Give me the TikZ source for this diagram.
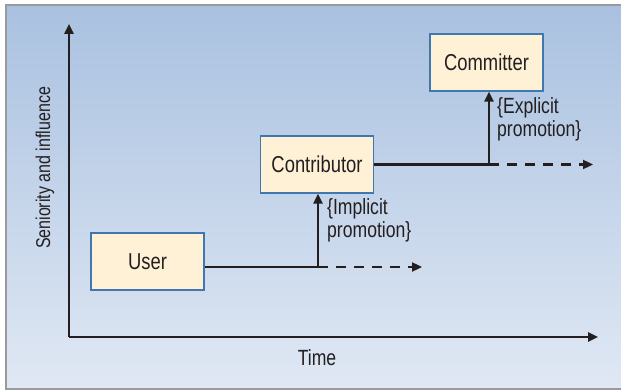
\documentclass[tikz,border=0pt]{standalone}
\usepackage{fontspec}
\setmainfont{Liberation Sans}[FakeStretch=0.8]
\usetikzlibrary{arrows.meta}
\definecolor{bgtop}{HTML}{A9C1E0}
\definecolor{bgbot}{HTML}{E0E8F4}
\definecolor{boxfill}{HTML}{FFF1D6}
\definecolor{boxline}{HTML}{3F78AE}
\definecolor{ink}{HTML}{231F20}
\definecolor{frame}{HTML}{9A9A9A}
\tikzset{
  role/.style={draw=boxline, line width=1.4pt, fill=boxfill, minimum width=113pt, minimum height=57pt, inner sep=0pt, font=\fontsize{23}{26}\selectfont, text=ink},
  axis/.style={draw=ink, line width=2.4pt, -{Triangle[length=10pt,width=9pt]}},
  link/.style={draw=ink, line width=2.3pt},
  promo/.style={draw=ink, line width=2.3pt, -{Triangle[length=10pt,width=9pt]}},
  future/.style={draw=ink, line width=2.3pt, dash pattern=on 10pt off 8pt, -{Triangle[length=10pt,width=9pt]}},
  lbl/.style={font=\fontsize{22}{23}\selectfont, text=ink, align=left, inner sep=0pt},
  axlbl/.style={font=\fontsize{20}{22}\selectfont, text=ink, inner sep=0pt},
}
\begin{document}
\begin{tikzpicture}[x=1pt,y=-1pt]
\useasboundingbox (0,0) rectangle (621,390);
\shade[top color=bgtop, bottom color=bgbot] (6,5) rectangle (621,389);
\draw[frame, line width=1.5pt] (621,5) -- (6,5) -- (6,389) -- (621,389);
% axes
\coordinate (origin) at (69,337);
\coordinate (ytip) at (69,24);
\coordinate (xtip) at (598,337);
\draw[axis] (origin) -- (ytip);
\draw[axis] (origin) -- (xtip);
\node[axlbl, rotate=90, anchor=center] (ylab) at (45,168) {Seniority and influence};
\node[axlbl, font=\fontsize{22}{24}\selectfont, anchor=center] (xlab) at (317,358) {Time};
% roles
\node[role] (user) at (147.5,261.5) {User};
\node[role] (contrib) at (317,164.5) {Contributor};
\node[role] (commit) at (486.5,62.5) {Committer};
% user line
\coordinate (j1) at (318,267);
\coordinate (d1) at (422,267);
\draw[link] (user.east |- j1) -- (j1);
\draw[future] (j1) -- (d1);
\draw[promo] (j1) -- (contrib.south -| j1);
\node[lbl, anchor=north west] (imp) at (327,198) {\{Implicit\\promotion\}};
% contributor line
\coordinate (j2) at (489,164.5);
\coordinate (d2) at (593,164.5);
\draw[link] (contrib.east) -- (j2);
\draw[future] (j2) -- (d2);
\draw[promo] (j2) -- (commit.south -| j2);
\node[lbl, anchor=north west] (exp) at (497,97) {\{Explicit\\promotion\}};
\end{tikzpicture}
\end{document}
